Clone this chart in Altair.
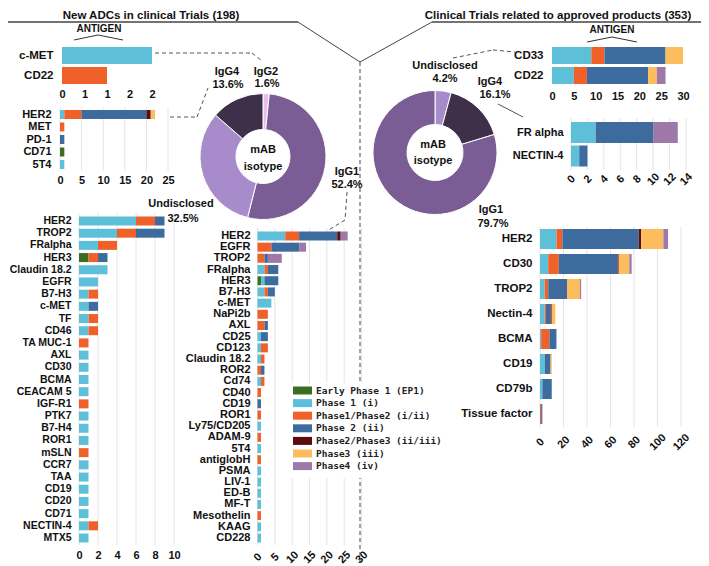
import math
import pandas as pd
import altair as alt

W, H = 693, 558
FONT = "Liberation Sans"
MONO = "DejaVu Sans Mono"
INK = "#111111"
LINE = "#555555"

PHASES = ["Early Phase 1 (EP1)", "Phase 1 (i)", "Phase1/Phase2 (i/ii)", "Phase 2 (ii)",
          "Phase2/Phase3 (ii/iii)", "Phase3 (iii)", "Phase4 (iv)"]
PHASE_COLORS = ["#3b6e23", "#5ec0d8", "#f0612a", "#3d6b9e", "#5c0b0e", "#fdbd5f", "#9e78a8"]

# ---- Panel A: new ADCs, antigen (top left)
a_cats = ["c-MET", "CD22"]
a_ep1 = [0, 0]
a_p1 = [2, 0]
a_p12 = [0, 1]
a_p2 = [0, 0]
a_p23 = [0, 0]
a_p3 = [0, 0]
a_p4 = [0, 0]

# ---- Panel B: new ADCs, IgG4
b_cats = ["HER2", "MET", "PD-1", "CD71", "5T4"]
b_ep1 = [0, 0, 0, 1, 0]
b_p1 = [1, 0, 0, 0, 1]
b_p12 = [4, 1, 0, 0, 0]
b_p2 = [15, 0, 1, 0, 0]
b_p23 = [1, 0, 0, 0, 0]
b_p3 = [1, 0, 0, 0, 0]
b_p4 = [0, 0, 0, 0, 0]

# ---- Panel C: new ADCs, undisclosed
c_cats = ["HER2", "TROP2", "FRalpha", "HER3", "Claudin 18.2", "EGFR", "B7-H3", "c-MET", "TF", "CD46",
          "TA MUC-1", "AXL", "CD30", "BCMA", "CEACAM 5", "IGF-R1", "PTK7", "B7-H4", "ROR1", "mSLN",
          "CCR7", "TAA", "CD19", "CD20", "CD71", "NECTIN-4", "MTX5"]
c_ep1 = [0, 0, 0, 1, 0, 0, 0, 0, 0, 0, 0, 0, 0, 0, 0, 0, 0, 0, 0, 0, 0, 0, 0, 0, 0, 0, 0]
c_p1 = [6, 4, 2, 0, 3, 2, 1, 1, 1, 1, 0, 1, 1, 1, 1, 0, 1, 1, 1, 0, 1, 1, 1, 1, 1, 1, 1]
c_p12 = [2, 2, 2, 1, 0, 0, 1, 0, 1, 1, 1, 0, 0, 0, 0, 1, 0, 0, 0, 1, 0, 0, 0, 0, 0, 1, 0]
c_p2 = [1, 3, 0, 1, 0, 0, 0, 1, 0, 0, 0, 0, 0, 0, 0, 0, 0, 0, 0, 0, 0, 0, 0, 0, 0, 0, 0]
c_p23 = [0, 0, 0, 0, 0, 0, 0, 0, 0, 0, 0, 0, 0, 0, 0, 0, 0, 0, 0, 0, 0, 0, 0, 0, 0, 0, 0]
c_p3 = [0, 0, 0, 0, 0, 0, 0, 0, 0, 0, 0, 0, 0, 0, 0, 0, 0, 0, 0, 0, 0, 0, 0, 0, 0, 0, 0]
c_p4 = [0, 0, 0, 0, 0, 0, 0, 0, 0, 0, 0, 0, 0, 0, 0, 0, 0, 0, 0, 0, 0, 0, 0, 0, 0, 0, 0]

# ---- Panel D: new ADCs, IgG1
d_cats = ["HER2", "EGFR", "TROP2", "FRalpha", "HER3", "B7-H3", "c-MET", "NaPi2b", "AXL", "CD25",
          "CD123", "Claudin 18.2", "ROR2", "Cd74", "CD40", "CD19", "ROR1", "Ly75/CD205", "ADAM-9", "5T4",
          "antiglobH", "PSMA", "LIV-1", "ED-B", "MF-T", "Mesothelin", "KAAG", "CD228"]
d_ep1 = [0, 0, 0, 0, 1, 0, 0, 0, 0, 0, 0, 0, 0, 0, 0, 0, 0, 0, 0, 0, 0, 0, 0, 0, 0, 0, 0, 0]
d_p1 = [8, 0, 0, 2, 1, 2, 4, 0, 0, 1, 1, 1, 0, 1, 0, 0, 0, 1, 0, 1, 0, 1, 1, 1, 1, 0, 1, 1]
d_p12 = [4, 4, 2, 1, 0, 1, 0, 3, 2, 0, 2, 1, 1, 1, 1, 0, 1, 0, 1, 0, 1, 0, 0, 0, 0, 1, 0, 0]
d_p2 = [11, 8, 1, 3, 4, 2, 0, 0, 1, 2, 0, 0, 1, 0, 0, 1, 0, 0, 0, 0, 0, 0, 0, 0, 0, 0, 0, 0]
d_p23 = [1, 0, 0, 0, 0, 0, 0, 0, 0, 0, 0, 0, 0, 0, 0, 0, 0, 0, 0, 0, 0, 0, 0, 0, 0, 0, 0, 0]
d_p3 = [0, 0, 0, 0, 0, 0, 0, 0, 0, 0, 0, 0, 0, 0, 0, 0, 0, 0, 0, 0, 0, 0, 0, 0, 0, 0, 0, 0]
d_p4 = [2, 2, 4, 0, 0, 0, 0, 0, 0, 0, 0, 0, 0, 0, 0, 0, 0, 0, 0, 0, 0, 0, 0, 0, 0, 0, 0, 0]

# ---- Panel E: approved products, antigen (top right)
e_cats = ["CD33", "CD22"]
e_ep1 = [0, 0]
e_p1 = [9, 5]
e_p12 = [3, 3]
e_p2 = [14, 14]
e_p23 = [0, 0]
e_p3 = [4, 2]
e_p4 = [0, 2]

# ---- Panel F: approved products, IgG4
f_cats = ["FR alpha", "NECTIN-4"]
f_ep1 = [0, 0]
f_p1 = [3, 1]
f_p12 = [0, 0]
f_p2 = [7, 1]
f_p23 = [0, 0]
f_p3 = [0, 0]
f_p4 = [3, 0]

# ---- Panel G: approved products, IgG1
g_cats = ["HER2", "CD30", "TROP2", "Nectin-4", "BCMA", "CD19", "CD79b", "Tissue factor"]
g_ep1 = [0, 0, 0, 0, 0, 0, 0, 0]
g_p1 = [14, 7, 4, 4, 1, 4, 2, 0]
g_p12 = [5, 9, 3, 1, 7, 0, 0, 1]
g_p2 = [65, 50, 16, 4, 6, 5, 8, 1]
g_p23 = [2, 1, 0, 1, 0, 0, 0, 0]
g_p3 = [19, 9, 11, 3, 0, 1, 0, 0]
g_p4 = [4, 2, 1, 0, 0, 0, 0, 0]

# ---- Donuts (mAB isotype)
left_iso = ["IgG2", "IgG1", "Undisclosed", "IgG4"]
left_pct = [1.6, 52.4, 32.5, 13.6]
right_iso = ["Undisclosed", "IgG4", "IgG1"]
right_pct = [4.2, 16.1, 79.7]
ISO_COLOR = {"IgG1": "#7a5d94", "Undisclosed": "#a88bca", "IgG4": "#3e3048", "IgG2": "#ecbcf0"}

phase_scale = alt.Scale(domain=PHASES, range=PHASE_COLORS)


def long_df(cats, series):
    rows = []
    for i, c in enumerate(cats):
        for k in range(len(PHASES)):
            v = series[k][i]
            if v > 0:
                rows.append({"cat": c, "phase": PHASES[k], "pidx": k, "n": v})
    return pd.DataFrame(rows)


def panel(cats, series, xdom, xr, yr, bar_h, ticks, axis_y, ylab_pad, grid=None,
          angle=0, round_labels=False, ylab_size=11, xlab_size=11, corner=0):
    df = long_df(cats, series)
    step = (yr[1] - yr[0]) / len(cats)
    pi = 1 - bar_h / step
    xs = alt.Scale(domain=xdom, range=xr, nice=False, zero=True)
    ys = alt.Scale(domain=cats, range=yr, paddingInner=pi, paddingOuter=pi / 2)
    xkw = dict(orient="bottom", offset=axis_y - H, values=ticks, labelAngle=angle,
               labelAlign="center", labelBaseline="middle", labelPadding=0, labelFlush=False,
               labelOverlap=False, title=None, labelFontSize=xlab_size, domain=False,
               ticks=False, grid=False)
    if round_labels:
        xkw["labelExpr"] = "'' + round(datum.value)"
    xaxis = alt.Axis(**xkw)
    yaxis = alt.Axis(orient="left", offset=-xr[0], labelPadding=ylab_pad, labelAlign="right",
                     labelBaseline="middle", labelFontSize=ylab_size, title=None,
                     labelOverlap=False, domain=False, ticks=False, grid=False)
    mk = {"cornerRadius": corner} if corner else {}
    bars = alt.Chart(df).mark_bar(**mk).encode(
        x=alt.X("n:Q", stack="zero", scale=xs, axis=xaxis),
        y=alt.Y("cat:N", scale=ys, axis=yaxis),
        color=alt.Color("phase:N", scale=phase_scale, legend=None),
        order=alt.Order("pidx:Q"),
    )
    layers = []
    if grid:
        gdf = pd.DataFrame({"v": ticks})
        rules = alt.Chart(gdf).mark_rule(color="#e4e4e4", strokeWidth=1).encode(
            x=alt.X("v:Q", scale=xs, axis=xaxis),
            y=alt.value(grid[0]), y2=alt.value(grid[1]))
        layers.append(rules)
    layers.append(bars)
    return alt.layer(*layers)


def donut(isos, pcts, cx, cy, r_out, r_in):
    df = pd.DataFrame({"iso": isos, "pct": pcts, "k": list(range(len(isos)))})
    return alt.Chart(df).mark_arc(outerRadius=r_out, innerRadius=r_in, stroke="white",
                                  strokeWidth=1).encode(
        theta=alt.Theta("pct:Q", stack=True),
        order=alt.Order("k:Q"),
        color=alt.Color("iso:N", scale=alt.Scale(domain=isos, range=[ISO_COLOR[i] for i in isos]),
                        legend=None),
        x=alt.value(cx), y=alt.value(cy),
    )


def label(txt, x, y, size=11, align="center", baseline="middle", font=FONT, weight="bold",
          color=INK):
    return alt.Chart().mark_text(text=txt, align=align, baseline=baseline, fontSize=size,
                                 font=font, fontWeight=weight, color=color).encode(
        x=alt.value(x), y=alt.value(y))


def seg(x1, y1, x2, y2, dashed=True, color=LINE, w=1.0):
    kw = {"strokeDash": [4, 3]} if dashed else {}
    return alt.Chart().mark_rule(color=color, strokeWidth=w, **kw).encode(
        x=alt.value(x1), y=alt.value(y1), x2=alt.value(x2), y2=alt.value(y2))


def S(*lists):
    return list(lists)


layers = []

# title underline / divider
layers += [
    seg(0, 14, 290, 14, dashed=False, color="#444", w=1.3),
    seg(290, 14, 352, 54, dashed=False, color="#444", w=1.0),
    seg(352, 54, 424, 14, dashed=False, color="#444", w=1.0),
    seg(424, 14, 693, 14, dashed=False, color="#444", w=1.3),
    seg(352, 54, 352, 558, dashed=True, color="#444", w=1.0),
]

# bar panels
layers += [
    panel(a_cats, S(a_ep1, a_p1, a_p12, a_p2, a_p23, a_p3, a_p4), [0, 2], [54, 144], [37.5, 77.5],
          17, [0, 0.5, 1, 1.5, 2], 86, 9, round_labels=True, ylab_size=11.5),
    panel(b_cats, S(b_ep1, b_p1, b_p12, b_p2, b_p23, b_p3, b_p4), [0, 25], [52, 160], [100.25, 162.75],
          9, [0, 5, 10, 15, 20, 25], 172, 9, grid=(99, 163)),
    panel(c_cats, S(c_ep1, c_p1, c_p12, c_p2, c_p23, c_p3, c_p4), [0, 10], [71, 166], [206.9, 536.1],
          9, [0, 2, 4, 6, 8, 10], 547, 8, grid=(205, 537), ylab_size=10.5),
    panel(d_cats, S(d_ep1, d_p1, d_p12, d_p2, d_p23, d_p3, d_p4), [0, 30], [249.5, 353.5], [222.4, 535.6],
          9, [0, 5, 10, 15, 20, 25, 30], 549, 7.5, grid=(220, 537), angle=-45),
    panel(e_cats, S(e_ep1, e_p1, e_p12, e_p2, e_p23, e_p3, e_p4), [0, 30], [544, 675], [37.5, 77.5],
          17, [0, 5, 10, 15, 20, 25, 30], 88, 9, ylab_size=11.5),
    panel(f_cats, S(f_ep1, f_p1, f_p12, f_p2, f_p23, f_p3, f_p4), [0, 14], [563, 678], [112.75, 159.75],
          21, [0, 2, 4, 6, 8, 10, 12, 14], 171, 8, grid=(110, 162), angle=-45),
    panel(g_cats, S(g_ep1, g_p1, g_p12, g_p2, g_p23, g_p3, g_p4), [0, 120], [532, 673], [218.5, 418.5],
          20, [0, 20, 40, 60, 80, 100, 120], 434, 8, grid=(219, 419), angle=-45, ylab_size=11.5),
]

# donuts
layers += [
    donut(left_iso, left_pct, 255, 148.5, 63, 27),
    donut(right_iso, right_pct, 427, 144.5, 62, 28),
]

# legend (white box + swatches + labels)
leg_df = pd.DataFrame({"phase": PHASES})
leg_ys = alt.Scale(domain=PHASES, range=[376.2, 464.4], paddingInner=0.365, paddingOuter=0.1825)
legend = alt.layer(
    alt.Chart().mark_rect(color="white").encode(
        x=alt.value(282), x2=alt.value(452), y=alt.value(375), y2=alt.value(470)),
    alt.Chart(leg_df).mark_rect().encode(
        x=alt.value(285), x2=alt.value(304),
        y=alt.Y("phase:N", scale=leg_ys, axis=None),
        color=alt.Color("phase:N", scale=phase_scale, legend=None)),
    alt.Chart(leg_df).mark_text(align="left", baseline="middle", font=MONO, fontWeight="bold",
                                fontSize=9.5, color="#222").encode(
        x=alt.value(308),
        y=alt.Y("phase:N", scale=leg_ys, axis=None),
        text="phase:N"),
)
layers.append(legend)

# titles and annotation text
layers += [
    label("New ADCs in clinical Trials (198)", 143, 10.5, size=11.5, baseline="alphabetic"),
    label("Clinical Trials related to approved products (353)", 550, 10.5, size=11.5,
          baseline="alphabetic"),
    label("ANTIGEN", 91, 21, size=10),
    label("ANTIGEN", 604, 22, size=10),
    seg(66, 32, 90, 27, dashed=False, color="#333"),
    seg(90, 27, 115, 32, dashed=False, color="#333"),
    seg(579, 34, 604, 29, dashed=False, color="#333"),
    seg(604, 29, 629, 34, dashed=False, color="#333"),
    # left donut
    label("mAB", 255, 142), label("isotype", 255, 159),
    label("IgG4", 219, 64), label("13.6%", 220, 77),
    label("IgG2", 258, 64), label("1.6%", 259, 76),
    label("IgG1", 339, 164), label("52.4%", 339, 177),
    label("Undisclosed", 173, 196), label("32.5%", 175, 211),
    # right donut
    label("mAB", 425, 137), label("isotype", 425, 153),
    label("Undisclosed", 437, 58), label("4.2%", 437, 71),
    label("IgG4", 482, 74), label("16.1%", 487, 87),
    label("IgG1", 483, 202), label("79.7%", 485, 216),
    # connectors
    seg(147, 45, 244, 45), seg(244, 45, 254, 53),
    seg(162, 109, 189, 109), seg(189, 109, 200, 80),
    seg(339, 184, 337, 212), seg(337, 212, 319, 223),
    seg(445, 50, 485, 42), seg(485, 42, 507, 44),
    seg(490, 96, 515, 109, dashed=False),
]

chart = alt.layer(*layers).resolve_scale(
    x="independent", y="independent", color="independent", theta="independent"
).properties(
    width=W, height=H, padding=0, autosize=alt.AutoSizeParams(type="none"),
    background="white",
).configure_view(stroke=None).configure_axis(
    labelFont=FONT, labelFontWeight="bold", labelColor=INK,
)

chart.save("out.html", embed_options={"renderer": "svg", "actions": False})
